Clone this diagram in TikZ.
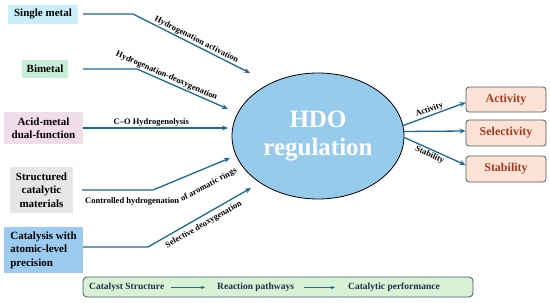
\documentclass[tikz,border=0pt]{standalone}
\usepackage{fontspec}
\setmainfont{Liberation Serif}
\newfontfamily\ser{Liberation Serif}
\usetikzlibrary{shapes.geometric,arrows.meta,calc}
\definecolor{arrowc}{HTML}{1B6A93}
\definecolor{smc}{HTML}{C9F0FA}
\definecolor{bmc}{HTML}{C5EFD6}
\definecolor{amc}{HTML}{F1DCE9}
\definecolor{stc}{HTML}{E6E6E6}
\definecolor{cac}{HTML}{9BCBEF}
\definecolor{ellc}{HTML}{97CBEC}
\definecolor{resf}{HTML}{FDE3D6}
\definecolor{resd}{HTML}{4D5A66}
\definecolor{rest}{HTML}{A53A1F}
\definecolor{barf}{HTML}{D8F3D4}
\definecolor{bard}{HTML}{3F5A5A}
\definecolor{bart}{HTML}{1F2D50}
\tikzset{
  src/.style={font=\ser\fontsize{11}{13.5}\selectfont\bfseries, inner sep=0pt, align=center},
  flow/.style={draw=arrowc, line width=1.3pt, -{Stealth[length=6pt,width=5pt]}},
  thinflow/.style={draw=arrowc, line width=1pt, -{Stealth[length=4pt,width=3.5pt]}},
  lbl/.style={font=\ser\fontsize{8.5}{10}\selectfont\bfseries, inner sep=1pt},
  lbls/.style={font=\ser\fontsize{8.5}{10}\selectfont\bfseries, inner sep=1pt},
  res/.style={rounded corners=3pt, draw=resd, fill=resf, line width=0.8pt, minimum width=80pt, minimum height=25pt, inner sep=0pt, text=rest, font=\ser\fontsize{12}{14}\selectfont\bfseries},
  bt/.style={font=\ser\fontsize{9.5}{11}\selectfont\bfseries, text=bart, inner sep=1pt}
}
\begin{document}
\begin{tikzpicture}[x=1pt,y=-1pt]
\useasboundingbox (0,0) rectangle (550,303);
% source boxes
\node[src, fill=smc, minimum width=70pt, minimum height=19pt] (sm) at (43,14) {Single metal};
\node[src, fill=bmc, minimum width=46pt, minimum height=18pt] (bm) at (45,69) {Bimetal};
\node[src, fill=amc, minimum width=79pt, minimum height=32pt] (am) at (43.5,128) {Acid-metal\\dual-function};
\node[src, fill=stc, minimum width=63pt, minimum height=46pt] (st) at (41.5,190) {Structured\\catalytic\\materials};
\node[src, fill=cac, minimum width=79pt, minimum height=46pt, align=left] (ca) at (43.5,250) {Catalysis with\\atomic-level\\precision};
% ellipse
\node[ellipse, draw=black, fill=ellc, line width=0.8pt, minimum width=172pt, minimum height=126pt, inner sep=0pt, text=white, align=center, font=\ser\fontsize{25}{28}\selectfont\bfseries] (hdo) at (318,136) {HDO\\regulation};
% bends and tips
\coordinate (b1) at (133,14);  \coordinate (t1) at (250,73);
\coordinate (b2) at (137,69);  \coordinate (t2) at (228,109);
\coordinate (t3) at (228,128);
\coordinate (b4) at (153,190); \coordinate (t4) at (230,158);
\coordinate (b5) at (148,247); \coordinate (t5) at (251,188);
\draw[flow] ([xshift=5pt]sm.east) -- (b1) -- node[lbl, sloped, above, pos=0.52] {Hydrogenation activation} (t1);
\draw[flow] ([xshift=15pt]bm.east) -- (b2) -- node[lbl, sloped, above, pos=0.3] {Hydrogenation-deoxygenation} (t2);
\draw[flow] (am.east) -- node[lbl, above, pos=0.47] {C–O Hydrogenolysis} (t3);
\draw[flow] ([xshift=9pt]st.east) -- (b4) -- (t4);
\draw[flow] (ca.east |- b5) -- (b5) -- node[lbl, sloped, below, pos=0.5, yshift=-3pt] {Selective deoxygenation} (t5);
\node[lbl, anchor=base west] (cl1) at (84,203) {Controlled hydrogenation};
\node[lbl, anchor=base west, rotate=28] (cl2) at ([xshift=1pt,yshift=1pt]cl1.base east) {of aromatic rings};
% results
\node[res] (act) at (506,99.5) {Activity};
\node[res, minimum height=26pt] (sel) at (506,133) {Selectivity};
\node[res, minimum height=26pt] (stab) at (506,169) {Stability};
\draw[flow] (hdo.7) -- node[lbls, sloped, above, pos=0.45] {Activity} ([yshift=-3pt]act.west);
\draw[flow] (hdo.3) -- ([yshift=2pt]sel.west);
\draw[flow] (hdo.-1) -- node[lbls, sloped, below, pos=0.45] {Stability} ([yshift=4pt]stab.west);
% bottom bar
\node[rounded corners=4pt, draw=bard, fill=barf, line width=0.8pt, minimum width=390pt, minimum height=20pt, inner sep=0pt] (bar) at (278,287) {};
\node[bt, anchor=west] (cs) at (88,287.5) {Catalyst Structure};
\node[bt, anchor=west] (rp) at (216,287.5) {Reaction pathways};
\node[bt, anchor=west] (cp) at (347,287.5) {Catalytic performance};
\draw[thinflow] ([xshift=6pt]cs.east) -- ([xshift=-11pt]rp.west);
\draw[thinflow] ([xshift=9pt]rp.east) -- ([xshift=-12pt]cp.west);
\end{tikzpicture}
\end{document}
